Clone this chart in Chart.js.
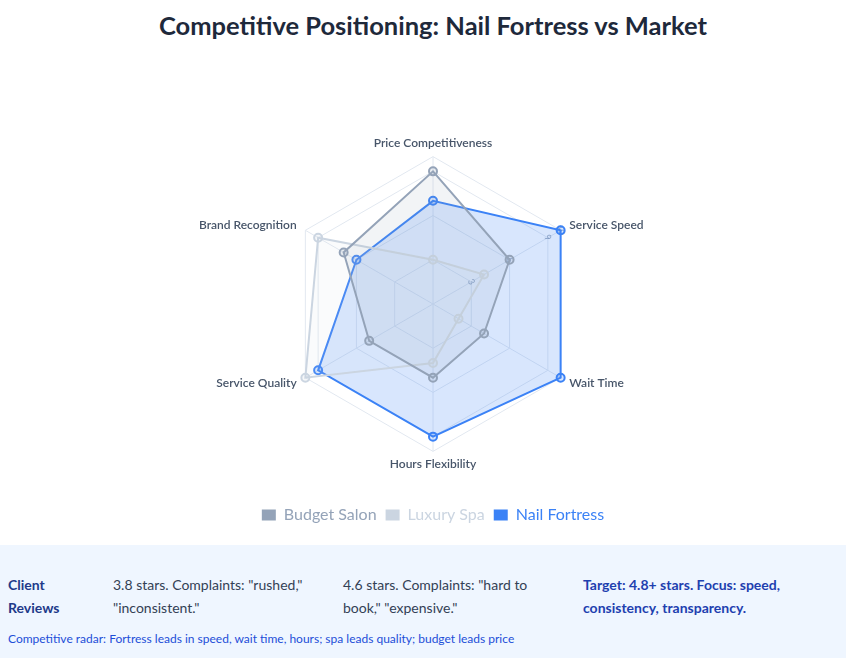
<!DOCTYPE html>
<html>
<head>
<meta charset="utf-8">
<title>Competitive Positioning</title>
<script src="https://cdn.jsdelivr.net/npm/chart.js@4.4.1/dist/chart.umd.min.js"></script>
<style>
  * { box-sizing: border-box; }
  body {
    margin: 0;
    width: 846px;
    height: 658px;
    background: #ffffff;
    font-family: Lato, "Noto Sans", sans-serif;
    overflow: hidden;
  }
  h1 {
    margin: 0;
    height: 50px;
    line-height: 50px;
    padding-left: 20px;
    text-align: center;
    font-size: 25.5px;
    font-weight: 700;
    color: #1e293b;
  }
  .chart-wrap {
    position: relative;
    width: 846px;
    height: 495px;
    padding-left: 20px;
  }
  .reviews {
    position: absolute;
    left: 0;
    top: 545px;
    width: 846px;
    height: 113px;
    background: #eff6ff;
    padding: 0 8px;
  }
  .row {
    display: grid;
    grid-template-columns: 105px 230px 240px 1fr;
    margin-top: 28px;
    font-size: 14px;
    line-height: 23px;
    color: #334155;
  }
  .row .head { font-weight: 700; color: #1e3a8a; }
  .row .target { font-weight: 700; color: #1e40af; }
  .note {
    margin-top: 12px;
    font-size: 12px;
    color: #1d4ed8;
  }
</style>
</head>
<body>
<h1>Competitive Positioning: Nail Fortress vs Market</h1>
<div class="chart-wrap"><canvas id="radarChart"></canvas></div>
<div class="reviews">
  <div class="row">
    <div class="head">Client<br>Reviews</div>
    <div>3.8 stars. Complaints: "rushed,"<br>"inconsistent."</div>
    <div>4.6 stars. Complaints: "hard to<br>book," "expensive."</div>
    <div class="target">Target: 4.8+ stars. Focus: speed,<br>consistency, transparency.</div>
  </div>
  <div class="note">Competitive radar: Fortress leads in speed, wait time, hours; spa leads quality; budget leads price</div>
</div>

<script>
// axes start at upper right (startAngle 60) so Price ends up on top
const categories = ['Service Speed', 'Wait Time', 'Hours Flexibility', 'Service Quality', 'Brand Recognition', 'Price Competitiveness'];
const budgetSalon = [6, 4, 5, 5, 7, 9];
const luxurySpa = [4, 2, 4, 10, 9, 3];
const nailFortress = [10, 10, 9, 9, 6, 7];
const scaleMax = 10;
const tickStep = 3;

document.addEventListener('DOMContentLoaded', function() {
    initRadarChart();
});

function initRadarChart() {
    const ctx = document.getElementById('radarChart').getContext('2d');
    new Chart(ctx, {
        type: 'radar',
        data: {
            labels: categories,
            datasets: [{
                label: 'Budget Salon',
                data: budgetSalon,
                borderColor: '#94a3b8',
                backgroundColor: 'rgba(148, 163, 184, 0.12)',
                pointBackgroundColor: 'rgba(148, 163, 184, 0.2)',
                pointBorderColor: '#94a3b8',
                borderWidth: 2,
                pointRadius: 4,
                pointBorderWidth: 2
            }, {
                label: 'Luxury Spa',
                data: luxurySpa,
                borderColor: '#cbd5e1',
                backgroundColor: 'rgba(203, 213, 225, 0.1)',
                pointBackgroundColor: 'rgba(203, 213, 225, 0.2)',
                pointBorderColor: '#cbd5e1',
                borderWidth: 2,
                pointRadius: 4,
                pointBorderWidth: 2
            }, {
                label: 'Nail Fortress',
                data: nailFortress,
                borderColor: '#3b82f6',
                backgroundColor: 'rgba(59, 130, 246, 0.2)',
                pointBackgroundColor: 'rgba(59, 130, 246, 0.2)',
                pointBorderColor: '#3b82f6',
                borderWidth: 2,
                pointRadius: 4,
                pointBorderWidth: 2
            }]
        },
        options: {
            responsive: true,
            maintainAspectRatio: false,
            animation: false,
            layout: {
                padding: { top: 93.5, bottom: 12 }
            },
            plugins: {
                legend: {
                    position: 'bottom',
                    // blank title only adds space between radar and legend
                    title: {
                        display: true,
                        text: ' ',
                        font: { size: 10 },
                        padding: { top: 10, bottom: 9.8 }
                    },
                    labels: {
                        boxWidth: 14,
                        boxHeight: 11,
                        padding: 9,
                        font: { family: 'Lato', size: 16 },
                        generateLabels: function(chart) {
                            const items = Chart.defaults.plugins.legend.labels.generateLabels(chart);
                            items.forEach(item => {
                                const ds = chart.data.datasets[item.datasetIndex];
                                item.fillStyle = ds.borderColor;
                                item.strokeStyle = ds.borderColor;
                                item.fontColor = ds.borderColor;
                                item.lineWidth = 0;
                            });
                            return items;
                        }
                    }
                },
                tooltip: { enabled: false }
            },
            scales: {
                r: {
                    min: 0,
                    max: scaleMax,
                    startAngle: 60,
                    ticks: {
                        stepSize: tickStep,
                        showLabelBackdrop: false,
                        color: '#94a3b8',
                        font: { family: 'Lato', size: 9 }
                    },
                    grid: { color: '#e2e8f0' },
                    angleLines: { color: '#e2e8f0' },
                    pointLabels: {
                        // tiny line height keeps each label centred on its spoke end;
                        // top and bottom labels sit a little further out
                        padding: function(context) {
                            return (context.index === 2 || context.index === 5) ? 6.5 : 3.5;
                        },
                        backdropPadding: 0,
                        color: '#475569',
                        font: { family: 'Lato', size: 12, weight: '600', lineHeight: 0.01 }
                    }
                }
            }
        }
    });
}
</script>
</body>
</html>
